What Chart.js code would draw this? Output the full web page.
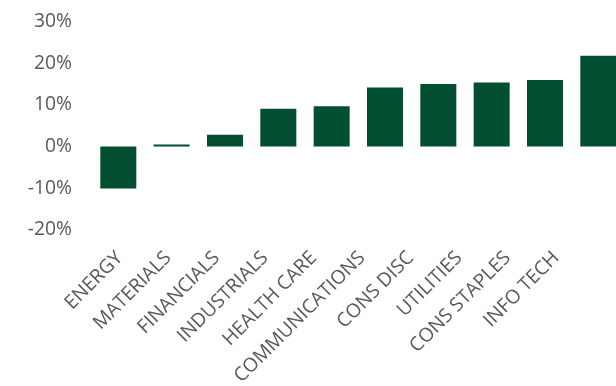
<!DOCTYPE html>
<html>
<head>
<meta charset="utf-8">
<script src="https://cdn.jsdelivr.net/npm/chart.js@4.4.0/dist/chart.umd.min.js"></script>
<style>
  html, body { margin: 0; padding: 0; overflow: hidden; background: #fff; }
  #wrap { width: 625px; height: 386px; position: relative; }
</style>
</head>
<body>
<div id="wrap"><canvas id="sector-chart"></canvas></div>
<script>
const sectors = ['ENERGY', 'MATERIALS', 'FINANCIALS', 'INDUSTRIALS', 'HEALTH CARE',
    'COMMUNICATIONS', 'CONS DISC', 'UTILITIES', 'CONS STAPLES', 'INFO TECH'];
const returns = [-10.1, 0.5, 2.8, 9.1, 9.7, 14.2, 15.0, 15.4, 16.0, 21.8];
const yTicks = [-20, -10, 0, 10, 20, 30];

// labels in the original sit on a slightly tighter pitch than the bars,
// so they get their own hidden linear axis
const noPad = function(axis) {
    axis.paddingLeft = 0; axis.paddingRight = 0;
    axis.paddingTop = 0; axis.paddingBottom = 0;
};

const ctx = document.getElementById('sector-chart').getContext('2d');

const myChart = new Chart(ctx, {
    type: 'bar',
    data: {
        labels: sectors,
        datasets: [{
            data: returns,
            backgroundColor: '#014f30',
            borderWidth: 0,
            barPercentage: 0.675,
            categoryPercentage: 1
        }]
    },
    options: {
        responsive: true,
        maintainAspectRatio: false,
        animation: false,
        layout: {
            padding: { top: 21.7, left: 0, right: 0, bottom: 0 }
        },
        plugins: {
            legend: { display: false },
            tooltip: { enabled: false }
        },
        scales: {
            x: {
                grid: { display: false, drawTicks: false },
                border: { display: false },
                ticks: { display: false },
                afterFit: function(axis) { noPad(axis); axis.height = 0; }
            },
            xLabels: {
                type: 'linear',
                position: 'bottom',
                bounds: 'data',
                offset: false,
                min: -0.578,
                max: 10.42,
                grid: { display: false, drawTicks: false },
                border: { display: false },
                afterBuildTicks: function(axis) {
                    axis.ticks = sectors.map((s, i) => ({ value: i }));
                },
                ticks: {
                    color: '#595959',
                    font: { family: 'Open Sans', size: 19.3 },
                    maxRotation: 45,
                    minRotation: 45,
                    autoSkip: false,
                    padding: 17,
                    callback: function(value) { return sectors[value]; }
                },
                afterFit: function(axis) { noPad(axis); axis.height = 156.3; }
            },
            y: {
                min: yTicks[0],
                max: yTicks[yTicks.length - 1],
                grid: { display: false, drawTicks: false },
                border: { display: false },
                afterBuildTicks: function(axis) {
                    axis.ticks = yTicks.map(v => ({ value: v }));
                },
                ticks: {
                    color: '#595959',
                    font: { family: 'Open Sans', size: 19.3 },
                    padding: 19.6,
                    callback: function(value) { return value + '%'; }
                },
                afterFit: function(axis) { noPad(axis); axis.width = 91.65; }
            }
        }
    }
});
</script>
</body>
</html>
